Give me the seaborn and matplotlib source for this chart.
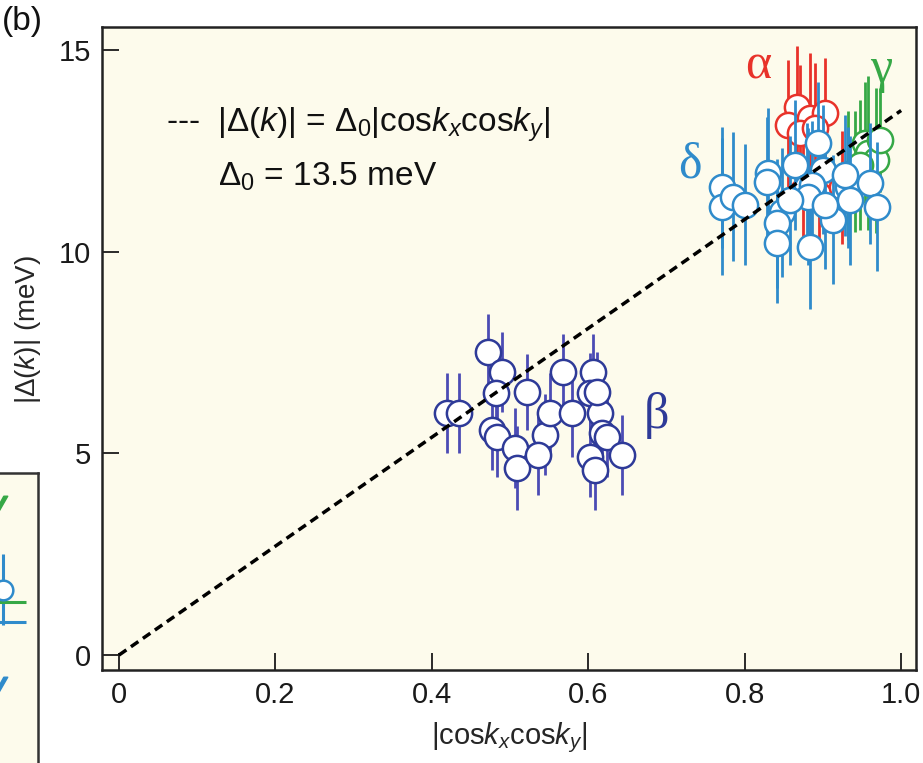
import numpy as np
import pandas as pd
import matplotlib
matplotlib.use("Agg")
import matplotlib.pyplot as plt
import seaborn as sns

# ---------------- data ----------------
# beta pocket
beta_x = [0.419, 0.435, 0.472, 0.490, 0.482, 0.522, 0.568, 0.606, 0.602, 0.477, 0.483, 0.506,
          0.509, 0.545, 0.551, 0.579, 0.536, 0.615, 0.618, 0.624, 0.602, 0.609, 0.643, 0.611]
beta_y = [6.00, 6.00, 7.51, 7.02, 6.50, 6.52, 7.02, 7.02, 6.50, 5.58, 5.41, 5.13,
          4.64, 5.46, 6.00, 6.00, 4.96, 6.00, 5.50, 5.41, 4.91, 4.59, 4.96, 6.52]
beta_err = [1.0, 1.0, 0.95, 1.0, 1.0, 0.95, 0.95, 0.95, 1.0, 1.0, 1.0, 1.0,
            1.05, 1.0, 1.0, 1.1, 1.0, 0.95, 1.0, 1.0, 1.0, 1.0, 1.0, 1.0]

# alpha pocket
alpha_x = [0.875, 0.895, 0.925, 0.867, 0.855, 0.884, 0.903, 0.871, 0.890]
alpha_y = [11.5, 11.4, 11.6, 13.59, 13.14, 13.32, 13.44, 12.94, 13.07]
alpha_err = [1.5, 1.5, 1.4, 1.5, 1.6, 1.6, 1.35, 1.7, 1.6]

# gamma pocket
gamma_x = [0.932, 0.941, 0.954, 0.958, 0.968, 0.948, 0.973]
gamma_y = [11.9, 12.0, 12.70, 12.45, 12.27, 12.15, 12.77]
gamma_err = [1.6, 1.5, 1.5, 1.9, 1.8, 1.6, 1.3]

# delta pocket
delta_x = [0.771, 0.771, 0.785, 0.801, 0.830, 0.829, 0.864, 0.848, 0.841, 0.841, 0.880, 0.884,
           0.894, 0.900, 0.886, 0.881, 0.913, 0.932, 0.935, 0.960, 0.969, 0.858, 0.928, 0.903]
delta_y = [11.60, 11.11, 11.36, 11.16, 11.95, 11.73, 12.15, 10.98, 10.71, 10.22, 11.60, 10.12,
           12.70, 12.03, 11.65, 11.36, 10.79, 11.60, 11.28, 11.70, 11.11, 11.28, 11.90, 11.16]
delta_err = [1.5, 1.7, 1.6, 1.5, 1.6, 1.6, 1.6, 1.6, 1.6, 1.5, 1.6, 1.55,
             1.5, 1.6, 1.6, 1.7, 1.6, 1.5, 1.6, 1.5, 1.6, 1.6, 1.5, 1.6]

delta0 = 13.5
fit_x = [0.0, 1.0]

# neighbouring panel (partly visible)
side_x = [0.843]
side_y = [0.736]
side_err = [0.08]
side_label_y = [0.915, 0.505]

# ---------------- style ----------------
sns.set_theme(style="ticks")
plt.rcParams["font.family"] = ["Liberation Sans", "DejaVu Sans"]
plt.rcParams["mathtext.fontset"] = "custom"
plt.rcParams["mathtext.rm"] = "Liberation Sans"
plt.rcParams["mathtext.it"] = "Liberation Sans:italic"
plt.rcParams["mathtext.bf"] = "Liberation Sans:bold"

cream = "#FDFBEC"
c_beta_edge = "#2E3A98"
c_beta_bar = "#4B4BB4"
c_delta = "#2F8BCB"
c_alpha = "#E8322A"
c_gamma = "#36A846"

fig = plt.figure(figsize=(9.23, 7.63), dpi=100)
ax = fig.add_axes([0.1105, 0.1219, 0.8819, 0.8427])
ax.set_facecolor(cream)

MS = 330
EW = 1.8
BW = 2.0


def draw_group(xs, ys, errs, edge, bar, z):
    df = pd.DataFrame({"x": xs, "y": ys, "e": errs})
    ax.vlines(df["x"], df["y"] - df["e"], df["y"] + df["e"], colors=bar,
              linewidth=BW, zorder=z)
    sns.scatterplot(data=df, x="x", y="y", ax=ax, s=MS, marker="o",
                    facecolor="white", edgecolor=edge, linewidth=EW,
                    zorder=z + 0.5, legend=False)


draw_group(beta_x, beta_y, beta_err, c_beta_edge, c_beta_bar, 2)
draw_group(alpha_x, alpha_y, alpha_err, c_alpha, c_alpha, 3)
draw_group(gamma_x, gamma_y, gamma_err, c_gamma, c_gamma, 4)
draw_group(delta_x, delta_y, delta_err, c_delta, c_delta, 5)

# d-wave-like form |Δ(k)| = Δ0 |cos kx cos ky|
fit_df = pd.DataFrame({"x": fit_x, "y": [delta0 * v for v in fit_x]})
sns.lineplot(data=fit_df, x="x", y="y", ax=ax, color="black", linewidth=2.5,
             linestyle=(0, (2.6, 1.6)), zorder=10)

ax.set_xlim(-0.0217, 1.019)
ax.set_ylim(-0.37, 15.57)
ax.set_xticks([0, 0.2, 0.4, 0.6, 0.8, 1.0])
ax.set_xticklabels(["0", "0.2", "0.4", "0.6", "0.8", "1.0"])
ax.set_yticks([0, 5, 10, 15])
ax.tick_params(direction="in", length=12, width=1.3, labelsize=21, colors="#1a1a1a",
               pad=8)
ax.tick_params(axis="y", pad=8)
for sp in ax.spines.values():
    sp.set_linewidth(1.8)
    sp.set_color("#222222")
    sp.set_visible(True)

ax.set_xlabel("|cos$k_x$cos$k_y$|", fontsize=21, labelpad=8)
ax.set_ylabel("|Δ($k$)| (meV)", fontsize=20, labelpad=10)
ax.yaxis.set_label_coords(-0.072, 0.53)

# pocket labels
serif = ["Liberation Serif", "DejaVu Serif"]
ax.text(0.817, 14.6, "α", color=c_alpha, fontsize=36, family=serif, ha="center", va="center")
ax.text(0.974, 14.5, "γ", color=c_gamma, fontsize=36, family=serif, ha="center", va="center")
ax.text(0.730, 12.15, "δ", color=c_delta, fontsize=36, family=serif, ha="center", va="center")
ax.text(0.687, 5.95, "β", color=c_beta_edge, fontsize=36, family=serif, ha="center", va="center")

# formula annotation
ax.text(0.06, 13.14, "---  |Δ($k$)| = Δ$_0$|cos$k_x$cos$k_y$|", fontsize=24,
        ha="left", va="center", color="#111111")
ax.text(0.127, 11.85, "Δ$_0$ = 13.5 meV", fontsize=24, ha="left", va="center",
        color="#111111")

fig.text(0.002, 0.992, "(b)", fontsize=24, ha="left", va="top", color="#111111")

# edge of the neighbouring panel
ax2 = fig.add_axes([-0.2, -0.2, 0.2412, 0.58])
ax2.set_facecolor(cream)
ax2.set_xlim(0, 1)
ax2.set_ylim(0, 1)
ax2.set_xticks([])
ax2.set_yticks([])
for sp in ax2.spines.values():
    sp.set_linewidth(1.8)
    sp.set_color("#333333")
side_df = pd.DataFrame({"x": side_x, "y": side_y})
ax2.vlines(side_x, [side_y[0] - side_err[0]], [side_y[0] + side_err[0]], colors=c_delta, linewidth=2.2)
ax2.hlines([0.709], [0.80], [0.945], colors=c_gamma, linewidth=2.2)
ax2.hlines([0.663], [0.80], [0.945], colors=c_delta, linewidth=2.2)
sns.scatterplot(data=side_df, x="x", y="y", ax=ax2, s=200, facecolor="white",
                edgecolor=c_delta, linewidth=1.8, zorder=3, legend=False)
# glyph markers for the pocket tags of that panel
ax2.plot([0.815], [side_label_y[0]], marker=r"$\gamma$", markersize=22, color=c_gamma,
         linestyle="none")
ax2.plot([0.815], [side_label_y[1]], marker=r"$\gamma$", markersize=22, color=c_delta,
         linestyle="none")
ax2.set_xlabel("")
ax2.set_ylabel("")

fig.savefig("out.png", dpi=100, facecolor="white")
